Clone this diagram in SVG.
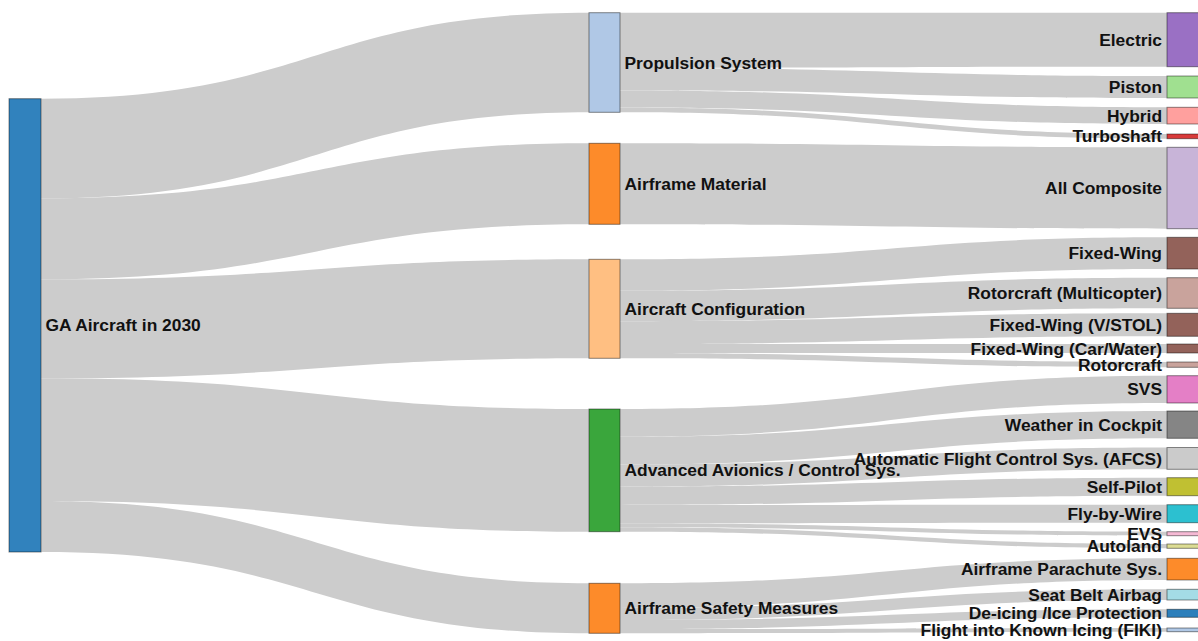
<svg xmlns="http://www.w3.org/2000/svg" width="1198" height="641" viewBox="0 0 1198 641">
<style>
.lk{fill:#cccccc;stroke:none}
.nd{stroke:#000;stroke-opacity:.45;stroke-width:1}
.lbl{font-family:"Liberation Sans",Arial,sans-serif;font-weight:bold;font-size:17.4px;fill:#111}
.r{text-anchor:end}
</style>
<rect width="1198" height="641" fill="#fff"/>
<g id="links">
<path class="lk" d="M41,98.7 C315,98.7 315,12.7 589,12.7 L589,112.3 C315,112.3 315,198.3 41,198.3 Z"/>
<path class="lk" d="M41,198.3 C315,198.3 315,143.3 589,143.3 L589,224.3 C315,224.3 315,279.3 41,279.3 Z"/>
<path class="lk" d="M41,279.3 C315,279.3 315,259.3 589,259.3 L589,358.3 C315,358.3 315,378.3 41,378.3 Z"/>
<path class="lk" d="M41,378.3 C315,378.3 315,409 589,409 L589,531.7 C315,531.7 315,501 41,501 Z"/>
<path class="lk" d="M41,501 C315,501 315,583.3 589,583.3 L589,633.3 C315,633.3 315,552 41,552 Z"/>
<path class="lk" d="M620,12.7 C893.5,12.7 893.5,12.7 1167,12.7 L1167,66.7 C893.5,66.7 893.5,67.9 620,67.9 Z"/>
<path class="lk" d="M620,67.9 C893.5,67.9 893.5,76 1167,76 L1167,98 C893.5,98 893.5,90.4 620,90.4 Z"/>
<path class="lk" d="M620,90.4 C893.5,90.4 893.5,107.3 1167,107.3 L1167,124 C893.5,124 893.5,107.5 620,107.5 Z"/>
<path class="lk" d="M620,107.5 C893.5,107.5 893.5,134 1167,134 L1167,138.7 C893.5,138.7 893.5,112.3 620,112.3 Z"/>
<path class="lk" d="M620,143.3 C893.5,143.3 893.5,147.3 1167,147.3 L1167,228.7 C893.5,228.7 893.5,224.3 620,224.3 Z"/>
<path class="lk" d="M620,259.3 C893.5,259.3 893.5,237.3 1167,237.3 L1167,269 C893.5,269 893.5,290.8 620,290.8 Z"/>
<path class="lk" d="M620,290.8 C893.5,290.8 893.5,277.7 1167,277.7 L1167,308.3 C893.5,308.3 893.5,321.2 620,321.2 Z"/>
<path class="lk" d="M620,321.2 C893.5,321.2 893.5,313.3 1167,313.3 L1167,336.3 C893.5,336.3 893.5,344.1 620,344.1 Z"/>
<path class="lk" d="M620,344.1 C893.5,344.1 893.5,344 1167,344 L1167,353 C893.5,353 893.5,353 620,353 Z"/>
<path class="lk" d="M620,353 C893.5,353 893.5,362 1167,362 L1167,367.3 C893.5,367.3 893.5,358.3 620,358.3 Z"/>
<path class="lk" d="M620,409 C893.5,409 893.5,375.7 1167,375.7 L1167,403 C893.5,403 893.5,436.75 620,436.75 Z"/>
<path class="lk" d="M620,436.75 C893.5,436.75 893.5,411 1167,411 L1167,438.3 C893.5,438.3 893.5,464.5 620,464.5 Z"/>
<path class="lk" d="M620,464.5 C893.5,464.5 893.5,447.5 1167,447.5 L1167,469.3 C893.5,469.3 893.5,486.66 620,486.66 Z"/>
<path class="lk" d="M620,486.66 C893.5,486.66 893.5,477.7 1167,477.7 L1167,495.7 C893.5,495.7 893.5,504.96 620,504.96 Z"/>
<path class="lk" d="M620,504.96 C893.5,504.96 893.5,504.7 1167,504.7 L1167,522.7 C893.5,522.7 893.5,523.26 620,523.26 Z"/>
<path class="lk" d="M620,523.26 C893.5,523.26 893.5,531.7 1167,531.7 L1167,535.7 C893.5,535.7 893.5,527.33 620,527.33 Z"/>
<path class="lk" d="M620,527.33 C893.5,527.33 893.5,544 1167,544 L1167,548.3 C893.5,548.3 893.5,531.7 620,531.7 Z"/>
<path class="lk" d="M620,583.3 C893.5,583.3 893.5,558.3 1167,558.3 L1167,580 C893.5,580 893.5,607.9 620,607.9 Z"/>
<path class="lk" d="M620,607.9 C893.5,607.9 893.5,589.3 1167,589.3 L1167,600 C893.5,600 893.5,620.03 620,620.03 Z"/>
<path class="lk" d="M620,620.03 C893.5,620.03 893.5,609.3 1167,609.3 L1167,617.3 C893.5,617.3 893.5,629.1 620,629.1 Z"/>
<path class="lk" d="M620,629.1 C893.5,629.1 893.5,628 1167,628 L1167,631.7 C893.5,631.7 893.5,633.3 620,633.3 Z"/>
</g>
<g id="node-ga"><rect class="nd" x="9" y="98.7" width="32" height="453.3" fill="#3182bd"/><text class="lbl" x="45.5" y="331.4">GA Aircraft in 2030</text></g>
<g id="node-propulsion"><rect class="nd" x="589" y="12.7" width="31" height="99.6" fill="#b0c8e6"/><text class="lbl" x="624.5" y="68.6">Propulsion System</text></g>
<g id="node-material"><rect class="nd" x="589" y="143.3" width="31" height="81" fill="#fd8b2a"/><text class="lbl" x="624.5" y="189.9">Airframe Material</text></g>
<g id="node-config"><rect class="nd" x="589" y="259.3" width="31" height="99" fill="#ffbf82"/><text class="lbl" x="624.5" y="314.9">Aircraft Configuration</text></g>
<g id="node-avionics"><rect class="nd" x="589" y="409" width="31" height="122.7" fill="#3aa63c"/><text class="lbl" x="624.5" y="476.4">Advanced Avionics / Control Sys.</text></g>
<g id="node-safety"><rect class="nd" x="589" y="583.3" width="31" height="50" fill="#fd8b2a"/><text class="lbl" x="624.5" y="614.4">Airframe Safety Measures</text></g>
<g id="node-electric"><rect class="nd" x="1167" y="12.7" width="32" height="54" fill="#9a70c4"/><text class="lbl r" x="1162" y="45.8">Electric</text></g>
<g id="node-piston"><rect class="nd" x="1167" y="76" width="32" height="22" fill="#a0e090"/><text class="lbl r" x="1162" y="93.1">Piston</text></g>
<g id="node-hybrid"><rect class="nd" x="1167" y="107.3" width="32" height="16.7" fill="#ffa09e"/><text class="lbl r" x="1162" y="121.7">Hybrid</text></g>
<g id="node-turboshaft"><rect class="nd" x="1167" y="134" width="32" height="4.7" fill="#d83a3a"/><text class="lbl r" x="1162" y="142.4">Turboshaft</text></g>
<g id="node-composite"><rect class="nd" x="1167" y="147.3" width="32" height="81.4" fill="#c8b4d8"/><text class="lbl r" x="1162" y="194.1">All Composite</text></g>
<g id="node-fixedwing"><rect class="nd" x="1167" y="237.3" width="32" height="31.7" fill="#93625a"/><text class="lbl r" x="1162" y="259.2">Fixed-Wing</text></g>
<g id="node-multicopter"><rect class="nd" x="1167" y="277.7" width="32" height="30.6" fill="#c9a39c"/><text class="lbl r" x="1162" y="299.1">Rotorcraft (Multicopter)</text></g>
<g id="node-vstol"><rect class="nd" x="1167" y="313.3" width="32" height="23" fill="#93625a"/><text class="lbl r" x="1162" y="330.9">Fixed-Wing (V/STOL)</text></g>
<g id="node-carwater"><rect class="nd" x="1167" y="344" width="32" height="9" fill="#93625a"/><text class="lbl r" x="1162" y="354.6">Fixed-Wing (Car/Water)</text></g>
<g id="node-rotorcraft"><rect class="nd" x="1167" y="362" width="32" height="5.3" fill="#c9a39c"/><text class="lbl r" x="1162" y="370.7">Rotorcraft</text></g>
<g id="node-svs"><rect class="nd" x="1167" y="375.7" width="32" height="27.3" fill="#e47fc6"/><text class="lbl r" x="1162" y="395.4">SVS</text></g>
<g id="node-weather"><rect class="nd" x="1167" y="411" width="32" height="27.3" fill="#858585"/><text class="lbl r" x="1162" y="430.7">Weather in Cockpit</text></g>
<g id="node-afcs"><rect class="nd" x="1167" y="447.5" width="32" height="21.8" fill="#cbcbcb"/><text class="lbl r" x="1162" y="464.5">Automatic Flight Control Sys. (AFCS)</text></g>
<g id="node-selfpilot"><rect class="nd" x="1167" y="477.7" width="32" height="18" fill="#c0c032"/><text class="lbl r" x="1162" y="492.8">Self-Pilot</text></g>
<g id="node-fbw"><rect class="nd" x="1167" y="504.7" width="32" height="18" fill="#2cc0d0"/><text class="lbl r" x="1162" y="519.8">Fly-by-Wire</text></g>
<g id="node-evs"><rect class="nd" x="1167" y="531.7" width="32" height="4" fill="#f5b9d4"/><text class="lbl r" x="1162" y="539.8">EVS</text></g>
<g id="node-autoland"><rect class="nd" x="1167" y="544" width="32" height="4.3" fill="#dcdc94"/><text class="lbl r" x="1162" y="552.2">Autoland</text></g>
<g id="node-parachute"><rect class="nd" x="1167" y="558.3" width="32" height="21.7" fill="#fd8b2a"/><text class="lbl r" x="1162" y="575.2">Airframe Parachute Sys.</text></g>
<g id="node-airbag"><rect class="nd" x="1167" y="589.3" width="32" height="10.7" fill="#a4dce6"/><text class="lbl r" x="1162" y="600.7">Seat Belt Airbag</text></g>
<g id="node-deicing"><rect class="nd" x="1167" y="609.3" width="32" height="8" fill="#2c7fbb"/><text class="lbl r" x="1162" y="619.4">De-icing /Ice Protection</text></g>
<g id="node-fiki"><rect class="nd" x="1167" y="628" width="32" height="3.7" fill="#b0c8e6"/><text class="lbl r" x="1162" y="635.9">Flight into Known Icing (FIKI)</text></g>
</svg>
